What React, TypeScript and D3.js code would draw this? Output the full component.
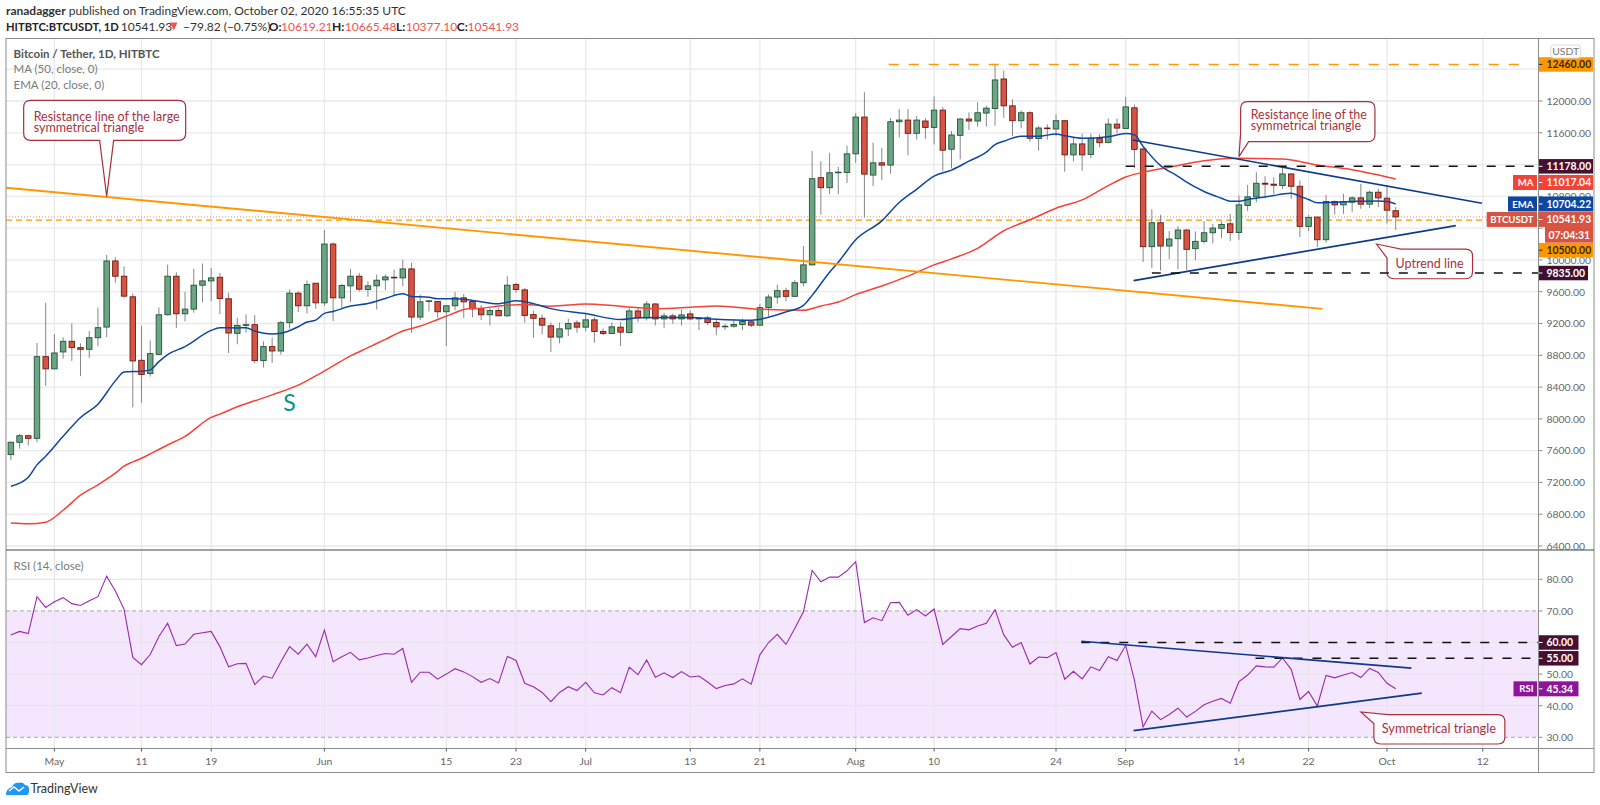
import { useEffect, useRef } from "react";
import * as d3 from "d3";

const WIDTH = 1600;
const HEIGHT = 805;
const FONT = "Lato, 'Open Sans', sans-serif";

const firstCandle = new Date(Date.UTC(2020, 3, 26));
const dayZero = new Date(Date.UTC(2020, 4, 1));

const opens = [
  7550, 7705, 7788, 7755, 8783, 8629, 8842, 8976, 8896, 8875, 9021, 9155, 9987, 9795, 9536, 8737, 8570, 8812, 9310, 9795,
  9322, 9381, 9682, 9736, 9782, 9511, 9076, 9176, 9185, 8733, 8909, 8854, 9210, 9582, 9423, 9707, 9460, 10200, 9523, 9674,
  9795, 9628, 9674, 9749, 9782, 9774, 9887, 9281, 9480, 9477, 9348, 9423, 9523, 9477, 9385, 9310, 9364, 9297, 9690, 9623,
  9312, 9266, 9171, 9029, 9133, 9208, 9154, 9246, 9100, 9075, 9154, 9087, 9358, 9271, 9446, 9258, 9296, 9258, 9321, 9258,
  9271, 9212, 9158, 9166, 9187, 9221, 9179, 9400, 9533, 9613, 9542, 9713, 9938, 11035, 10909, 11097, 11101, 11335, 11798, 11068,
  11222, 11193, 11739, 11760, 11593, 11748, 11668, 11885, 11393, 11568, 11773, 11748, 11848, 11906, 12277, 11939, 11752, 11852, 11527, 11660,
  11648, 11752, 11322, 11460, 11328, 11529, 11479, 11709, 11655, 11914, 11396, 10167, 10468, 10175, 10267, 10376, 10142, 10234, 10342, 10397,
  10455, 10346, 10685, 10794, 10965, 10953, 10936, 11082, 10927, 10422, 10539, 10254, 10735, 10693, 10727, 10781, 10702, 10852, 10777, 10619,
];
const highs = [
  7717, 7809, 7801, 8955, 9460, 9067, 9026, 9201, 8950, 9105, 9402, 10062, 10033, 9920, 9577, 9172, 8988, 9402, 9941, 9845,
  9598, 9887, 9954, 9899, 9837, 9586, 9272, 9314, 9306, 8976, 9021, 9235, 9628, 9603, 9740, 9710, 10377, 10221, 9699, 9887,
  9837, 9732, 9816, 9816, 9878, 10004, 9962, 9561, 9494, 9480, 9430, 9598, 9573, 9494, 9435, 9398, 9398, 9795, 9711, 9648,
  9362, 9312, 9212, 9212, 9262, 9241, 9325, 9279, 9137, 9212, 9221, 9400, 9396, 9483, 9454, 9333, 9325, 9375, 9367, 9283,
  9296, 9254, 9196, 9254, 9262, 9241, 9446, 9567, 9688, 9650, 9746, 10176, 11372, 11239, 11347, 11172, 11439, 11848, 12110, 11477,
  11410, 11785, 11898, 11898, 11814, 11785, 12056, 11923, 11623, 11785, 11856, 11985, 11939, 12460, 12381, 12023, 11881, 11869, 11685, 11706,
  11835, 11760, 11543, 11589, 11589, 11584, 11780, 11780, 12052, 11956, 11420, 10639, 10568, 10363, 10426, 10384, 10359, 10489, 10455, 10484,
  10580, 10810, 10944, 11103, 11053, 11040, 11187, 11090, 10998, 10568, 10545, 10819, 10748, 10831, 10802, 10957, 10873, 10894, 10936, 10665,
];
const lows = [
  7479, 7625, 7663, 7705, 8415, 8629, 8758, 8729, 8537, 8767, 8917, 9030, 9711, 9527, 8144, 8202, 8532, 8800, 9302, 9143,
  9226, 9335, 9465, 9481, 9318, 8829, 8938, 9084, 8700, 8645, 8704, 8808, 9134, 9343, 9327, 9385, 9419, 9230, 9398, 9469,
  9603, 9536, 9377, 9619, 9557, 9669, 9084, 9243, 9352, 9272, 8917, 9368, 9268, 9276, 9243, 9176, 9293, 9285, 9586, 9210,
  9020, 9062, 8841, 8950, 9041, 9083, 9104, 8958, 9054, 9066, 8916, 9075, 9216, 9237, 9175, 9141, 9196, 9175, 9241, 9116,
  9179, 9054, 9116, 9146, 9116, 9154, 9171, 9287, 9450, 9479, 9530, 9667, 9929, 10568, 10826, 10826, 10968, 11222, 10534, 10930,
  11005, 11085, 11543, 11318, 11514, 11522, 11452, 11118, 11151, 11264, 11635, 11677, 11677, 11689, 11789, 11556, 11656, 11489, 11376, 11514,
  11556, 11110, 11243, 11122, 11281, 11417, 11467, 11592, 11646, 11153, 9974, 9899, 9866, 10012, 9882, 9870, 9995, 10208, 10208, 10275,
  10238, 10254, 10614, 10727, 10777, 10831, 10894, 10769, 10288, 10363, 10162, 10217, 10572, 10580, 10601, 10643, 10652, 10664, 10455, 10377,
];
const closes = [
  7705, 7788, 7755, 8783, 8629, 8829, 8976, 8896, 8875, 9021, 9147, 9987, 9795, 9544, 8729, 8558, 8821, 9310, 9795, 9322,
  9381, 9682, 9736, 9774, 9515, 9080, 9176, 9185, 8733, 8909, 8854, 9210, 9582, 9423, 9690, 9460, 10200, 9523, 9678, 9795,
  9632, 9674, 9745, 9786, 9774, 9887, 9281, 9473, 9485, 9348, 9423, 9523, 9473, 9385, 9310, 9364, 9297, 9682, 9628, 9302,
  9266, 9179, 9029, 9133, 9200, 9154, 9246, 9100, 9075, 9158, 9091, 9358, 9271, 9446, 9258, 9296, 9258, 9308, 9258, 9266,
  9212, 9158, 9166, 9187, 9225, 9179, 9400, 9533, 9613, 9542, 9713, 9938, 11022, 10909, 11097, 11105, 11335, 11798, 11080, 11222,
  11193, 11739, 11760, 11593, 11760, 11668, 11885, 11381, 11572, 11773, 11748, 11852, 11910, 12265, 11939, 11752, 11852, 11531, 11660, 11652,
  11752, 11322, 11460, 11322, 11531, 11475, 11709, 11659, 11926, 11391, 10167, 10468, 10175, 10263, 10376, 10133, 10234, 10342, 10401, 10447,
  10346, 10693, 10794, 10965, 10953, 10940, 11082, 10927, 10422, 10535, 10254, 10735, 10693, 10735, 10781, 10702, 10852, 10781, 10626, 10541.93,
];

// line vertices, days counted from May 1
const emaDays = [
  -5, -3, -2, -1, 1, 3, 5, 7, 8, 10, 11, 12, 13, 15, 18, 19, 21, 22, 23, 25, 26, 28, 29, 30, 31, 32, 34, 36, 38, 40, 41, 43, 44, 46, 48, 51, 53, 55, 57,
  61, 65, 67, 70, 73, 76, 80, 81, 84, 86, 87, 89, 90, 92, 95, 97, 99, 101, 103, 105, 107, 108, 109, 111, 113, 115, 116, 118, 121, 123, 124, 125, 127, 129,
  130, 132, 134, 135, 136, 137, 138, 140, 141, 142, 143, 144, 145, 147, 149, 152, 153, 154,
];
const emaValues = [
  7153, 7266, 7421, 7529, 7780, 8018, 8185, 8478, 8591, 8599, 8616, 8720, 8808, 8909, 9113, 9147, 9143, 9147, 9105, 9067, 9076, 9159, 9218, 9243, 9327, 9352, 9419, 9452, 9515, 9573, 9540, 9531, 9511, 9511, 9490, 9448, 9485, 9450, 9387,
  9325, 9250, 9271, 9275, 9275, 9254, 9241, 9254, 9346, 9429, 9554, 9846, 9971, 10255, 10492, 10722, 10889, 11055, 11130, 11243, 11356, 11452, 11493, 11556, 11556, 11585, 11564, 11531, 11550, 11592, 11575, 11429, 11187, 11053,
  10978, 10861, 10777, 10739, 10739, 10760, 10777, 10810, 10831, 10840, 10802, 10760, 10718, 10727, 10735, 10743, 10735, 10704.22,
];
const maDays = [
  -5, -3, -1, 1, 3, 5, 7, 8, 10, 11, 13, 15, 18, 19, 21, 23, 25, 28, 30, 32, 34, 36, 38, 40, 42, 44, 46, 47, 49, 51, 54, 57, 61, 65, 69, 73, 76, 81, 86, 88,
  90, 92, 95, 98, 101, 103, 106, 109, 112, 115, 118, 121, 123, 125, 128, 132, 136, 141, 145, 149, 153, 154,
];
const maValues = [
  6690, 6680, 6700, 6850, 7040, 7170, 7316, 7404, 7504, 7559, 7671, 7780, 8018, 8060, 8152, 8227, 8302, 8424, 8541, 8666, 8792, 8896, 9001, 9105, 9168, 9251, 9335, 9377, 9393, 9419, 9440, 9417, 9446, 9417, 9387, 9404, 9421, 9379, 9367, 9421,
  9471, 9563, 9671, 9796, 9938, 10013, 10146, 10367, 10505, 10651, 10755, 10936, 11044, 11103, 11166, 11249, 11279, 11270, 11195, 11136, 11044, 11017.04,
];
const rsiValues = [
  62.4, 63.5, 62.8, 74.5, 71.1, 72.9, 74.2, 72.3, 71.7, 73.2, 74.5, 81.0, 76.3, 70.5, 55.3, 53.0, 56.2, 61.9, 66.1, 59.0,
  59.5, 62.6, 63.1, 63.5, 58.7, 52.3, 53.3, 53.4, 46.7, 49.4, 48.7, 53.9, 58.7, 56.3, 59.5, 55.5, 63.9, 53.9, 55.5, 56.9,
  54.5, 55.1, 55.9, 56.5, 56.3, 58.1, 47.4, 50.6, 50.6, 48.4, 50.0, 51.7, 50.7, 49.2, 47.4, 48.6, 47.2, 55.6, 54.3, 47.1,
  46.0, 44.2, 41.3, 44.2, 46.0, 44.8, 47.4, 44.1, 43.4, 45.7, 44.1, 52.2, 49.8, 54.5, 49.0, 50.4, 48.9, 50.8, 49.1, 49.4,
  47.5, 45.4, 46.4, 46.9, 48.5, 46.8, 56.1, 60.0, 62.6, 59.4, 64.4, 69.7, 82.8, 79.2, 80.7, 80.7, 82.7, 85.6, 66.3, 67.8,
  66.9, 72.6, 72.7, 68.6, 70.4, 68.4, 70.6, 59.4, 61.9, 64.4, 64.0, 65.2, 66.1, 70.4, 62.4, 58.5, 60.0, 53.2, 55.4, 55.2,
  56.8, 48.4, 50.9, 48.5, 52.3, 51.1, 55.5, 54.3, 59.1, 48.1, 33.3, 38.3, 35.6, 37.2, 39.2, 36.4, 38.2, 40.3, 41.4, 42.3,
  40.8, 47.6, 49.7, 52.6, 52.3, 52.2, 55.1, 51.5, 42.0, 44.5, 39.9, 49.6, 48.8, 49.7, 50.5, 48.9, 51.8, 50.5, 47.1, 45.34,
];

const priceTicks = [6400, 6800, 7200, 7600, 8000, 8400, 8800, 9200, 9600, 10000, 10400, 10800, 11200, 11600, 12000, 12400];
// these three sit fully behind a price tag in the reference
const hiddenPriceLabels = [10400, 11200, 12400];
const rsiTicks = [30, 40, 50, 60, 70, 80];
const timeTickDates = [
  "2020-05-01", "2020-05-11", "2020-05-19", "2020-06-01", "2020-06-15", "2020-06-23", "2020-07-01", "2020-07-13", "2020-07-21",
  "2020-08-01", "2020-08-10", "2020-08-24", "2020-09-01", "2020-09-14", "2020-09-22", "2020-10-01", "2020-10-12",
];
const timeTickLabels = ["May", "11", "19", "Jun", "15", "23", "Jul", "13", "21", "Aug", "10", "24", "Sep", "14", "22", "Oct", "12"];

// drawings as [day, value, day, value]
const orangeTrend = [-5.6, 10909, 145.6, 9384];
const priceResistance = [123.8, 11509, 163.9, 10713];
const priceUptrend = [123.9, 9740, 160.9, 10432];
const rsiResistance = [117.9, 60.4, 155.8, 51.9];
const rsiSupport = [123.9, 32.1, 157, 44];

const plotLeft = 6;
const plotRight = 1538.5;
const frameRight = 1594;
const priceTop = 38.5;
const priceBottom = 550;
const rsiBottom = 748.5;
const frameBottom = 772.5;
const AXIS_FONT = 10.4;

export default function App() {
  const svgRef = useRef<SVGSVGElement | null>(null);

  useEffect(() => {
    if (!svgRef.current) return;
    const svg = d3.select(svgRef.current);
    svg.selectAll("*").remove();

    const x = d3
      .scaleUtc()
      .domain([dayZero, new Date(Date.UTC(2020, 9, 12))])
      .range([54.4, 1482.8]);
    const xDay = (day: number) => x(new Date(dayZero.getTime() + day * 86400000));
    const y = d3.scaleLinear().domain([6400, 12000]).range([546, 101]);
    const yRsi = d3.scaleLinear().domain([30, 80]).range([737.3, 579.3]);
    const timeTicks = timeTickDates.map((d) => new Date(d + "T00:00:00Z"));

    const candles = opens.map((open, i) => ({
      date: d3.utcDay.offset(firstCandle, i),
      open,
      high: highs[i],
      low: lows[i],
      close: closes[i],
    }));

    const defs = svg.append("defs");
    defs.append("clipPath").attr("id", "price-clip").append("rect")
      .attr("x", plotLeft).attr("y", priceTop).attr("width", plotRight - plotLeft).attr("height", priceBottom - priceTop);

    // header
    const header = svg.append("g").attr("font-family", FONT).attr("font-size", 12).attr("fill", "#333");
    const line1 = header.append("text").attr("x", 6).attr("y", 15);
    line1.append("tspan").attr("font-weight", 700).text("ranadagger");
    line1.append("tspan").text(" published on TradingView.com, October 02, 2020 16:55:35 UTC");
    const headerBits: [number, string, string, number, number][] = [
      [6, "HITBTC:BTCUSDT, 1D", "#222", 700, 11.2],
      [120.7, "10541.93", "#333", 400, 12],
      [183, "−79.82 (−0.75%)", "#333", 400, 12],
      [268.8, "O:", "#222", 700, 12],
      [281, "10619.21", "#ef5350", 400, 12],
      [332, "H:", "#222", 700, 12],
      [344.8, "10665.48", "#ef5350", 400, 12],
      [396, "L:", "#222", 700, 12],
      [405.7, "10377.10", "#ef5350", 400, 12],
      [456.7, "C:", "#222", 700, 12],
      [467.5, "10541.93", "#ef5350", 400, 12],
    ];
    header.selectAll("text.bit").data(headerBits).join("text").attr("class", "bit")
      .attr("x", (d) => d[0]).attr("y", 31).attr("fill", (d) => d[2]).attr("font-weight", (d) => d[3])
      .attr("font-size", (d) => d[4]).text((d) => d[1]);
    header.append("path").attr("d", "M170 22.5h7.5l-3.75 8z").attr("fill", "#ef5350");

    // grid
    const grid = svg.append("g").attr("stroke", "#e9e9ec").attr("stroke-width", 1.3);
    grid.selectAll("line.p").data(priceTicks).join("line").attr("class", "p")
      .attr("x1", plotLeft).attr("x2", plotRight).attr("y1", (d) => y(d)).attr("y2", (d) => y(d));

    // rsi band sits under its grid
    svg.append("rect").attr("x", plotLeft).attr("width", plotRight - plotLeft)
      .attr("y", yRsi(70)).attr("height", yRsi(30) - yRsi(70)).attr("fill", "#f4e7fd");
    const gridRsi = svg.append("g").attr("stroke", "#e8e2ec").attr("stroke-width", 1.2);
    gridRsi.selectAll("line").data(rsiTicks.filter((t) => t !== 30 && t !== 70)).join("line")
      .attr("x1", plotLeft).attr("x2", plotRight).attr("y1", (d) => yRsi(d)).attr("y2", (d) => yRsi(d));
    gridRsi.selectAll("line.t").data(timeTicks).join("line").attr("class", "t")
      .attr("x1", (d) => x(d)).attr("x2", (d) => x(d)).attr("y1", priceBottom).attr("y2", rsiBottom);
    grid.selectAll("line.t").data(timeTicks).join("line").attr("class", "t")
      .attr("x1", (d) => x(d)).attr("x2", (d) => x(d)).attr("y1", priceTop).attr("y2", priceBottom);
    svg.append("g").attr("stroke", "#a9a4ad").attr("stroke-dasharray", "4 3")
      .selectAll("line").data([30, 70]).join("line")
      .attr("x1", plotLeft).attr("x2", plotRight).attr("y1", (d) => yRsi(d)).attr("y2", (d) => yRsi(d));

    // last price lines
    svg.append("line").attr("x1", plotLeft).attr("x2", plotRight).attr("y1", y(10541.93)).attr("y2", y(10541.93))
      .attr("stroke", "#e2907f").attr("stroke-dasharray", "1 2");
    svg.append("line").attr("x1", plotLeft).attr("x2", plotRight).attr("y1", y(10500)).attr("y2", y(10500))
      .attr("stroke", "#ff9800").attr("stroke-width", 1.3).attr("stroke-dasharray", "6 4");

    // candles
    const price = svg.append("g").attr("clip-path", "url(#price-clip)");
    const candle = price.append("g").selectAll("g").data(candles).join("g");
    candle.append("line")
      .attr("x1", (d) => x(d.date)).attr("x2", (d) => x(d.date))
      .attr("y1", (d) => y(d.high)).attr("y2", (d) => y(d.low))
      .attr("stroke", "#87878a").attr("stroke-width", 1);
    candle.append("rect")
      .attr("x", (d) => x(d.date) - 2.75).attr("width", 5.5)
      .attr("y", (d) => y(Math.max(d.open, d.close)))
      .attr("height", (d) => Math.max(0.6, Math.abs(y(d.open) - y(d.close))))
      .attr("fill", (d) => (d.close >= d.open ? "#6ba583" : "#d75442"))
      .attr("stroke", (d) => (d.close >= d.open ? "#225437" : "#6b1a13"))
      .attr("stroke-width", 0.9);

    // moving averages
    const lineAt = (vals: number[], days: number[]) =>
      d3.line<number>().x((_, i) => xDay(days[i])).y((v) => y(v)).curve(d3.curveMonotoneX)(vals);
    price.append("path").attr("d", lineAt(maValues, maDays)).attr("fill", "none").attr("stroke", "#f44336").attr("stroke-width", 1.5);
    price.append("path").attr("d", lineAt(emaValues, emaDays)).attr("fill", "none").attr("stroke", "#0d47a1").attr("stroke-width", 1.5);

    // rsi line
    const rsiLine = d3.line<number>().x((_, i) => x(d3.utcDay.offset(firstCandle, i))).y((v) => yRsi(v));
    svg.append("path").attr("d", rsiLine(rsiValues)).attr("fill", "none").attr("stroke", "#9c27b0").attr("stroke-width", 1.1);

    // callouts, anchored on the chart with the box placed around the tip
    const callouts = svg.append("g");
    const drawCallout = (
      tx: number, ty: number, bx0: number, by0: number, bx1: number, by1: number,
      kind: "bottom" | "bottomLeft" | "topLeft", lines: string[], textX: number, baseY: number, lead: number, anchor: string, size: number,
    ) => {
      const r = 7;
      const p = d3.path();
      if (kind === "topLeft") {
        p.moveTo(bx0 + 14, by0);
        p.lineTo(bx1 - r, by0);
      } else {
        p.moveTo(bx0 + r, by0);
        p.lineTo(bx1 - r, by0);
      }
      p.quadraticCurveTo(bx1, by0, bx1, by0 + r);
      p.lineTo(bx1, by1 - r);
      p.quadraticCurveTo(bx1, by1, bx1 - r, by1);
      if (kind === "bottom") {
        p.lineTo(tx + 7, by1);
        p.lineTo(tx, ty);
        p.lineTo(tx - 7, by1);
      }
      if (kind === "bottomLeft") {
        p.lineTo(bx0 + 8, by1);
        p.lineTo(tx, ty);
        p.lineTo(bx0, by1 - 8);
        p.lineTo(bx0, by0 + r);
      } else {
        p.lineTo(bx0 + r, by1);
        p.quadraticCurveTo(bx0, by1, bx0, by1 - r);
        if (kind === "topLeft") {
          p.lineTo(bx0, by0 + 9);
          p.lineTo(tx, ty);
        } else {
          p.lineTo(bx0, by0 + r);
        }
      }
      if (kind !== "topLeft") p.quadraticCurveTo(bx0, by0, bx0 + r, by0);
      p.closePath();
      callouts.append("path").attr("d", p.toString()).attr("fill", "rgba(255,255,255,0.78)")
        .attr("stroke", "#a8323c").attr("stroke-width", 1.2);
      lines.forEach((t, i) => {
        callouts.append("text").attr("x", textX).attr("y", baseY + i * lead).attr("text-anchor", anchor)
          .attr("font-family", FONT).attr("font-size", size).attr("fill", "#a8323c").text(t);
      });
    };

    // drawings
    const drawing = (g: d3.Selection<SVGGElement, unknown, null, undefined>, seg: number[], sy: (v: number) => number, color: string, w: number) =>
      g.append("line").attr("x1", xDay(seg[0])).attr("y1", sy(seg[1])).attr("x2", xDay(seg[2])).attr("y2", sy(seg[3]))
        .attr("stroke", color).attr("stroke-width", w);
    const dashed = (x0: number, x1: number, yy: number, color: string, w: number, dash: string) =>
      svg.append("line").attr("x1", x0).attr("x2", x1).attr("y1", yy).attr("y2", yy)
        .attr("stroke", color).attr("stroke-width", w).attr("stroke-dasharray", dash);

    dashed(xDay(95.8), 1528, y(12460), "#ff9800", 1.6, "10 10");
    dashed(xDay(123), plotRight, y(11178), "#111", 1.6, "9 10");
    dashed(xDay(126), plotRight, y(9835), "#111", 1.6, "9 10");
    dashed(xDay(117.9), plotRight, yRsi(60), "#111", 1.6, "9 10");
    dashed(xDay(137.9), plotRight, yRsi(55), "#111", 1.6, "9 10");

    const draw = price.append("g");
    drawing(draw, orangeTrend, y, "#ff9800", 1.9);
    drawing(draw, priceResistance, y, "#0d3a8c", 1.7);
    drawing(draw, priceUptrend, y, "#0d3a8c", 1.7);
    const drawRsi = svg.append("g");
    drawing(drawRsi, rsiResistance, yRsi, "#0d3a8c", 1.7);
    drawing(drawRsi, rsiSupport, yRsi, "#0d3a8c", 1.7);

    const tip1x = xDay(6);
    const tip1y = y(10800);
    drawCallout(tip1x, tip1y, tip1x - 83, tip1y - 96, tip1x + 79, tip1y - 56, "bottom",
      ["Resistance line of the large", "symmetrical triangle"], tip1x - 73, tip1y - 75, 11, "start", 12.5);
    const tip2x = xDay(136);
    const tip2y = y(11300);
    drawCallout(tip2x, tip2y, tip2x + 1.7, tip2y - 55, tip2x + 136, tip2y - 15, "bottomLeft",
      ["Resistance line of the", "symmetrical triangle"], tip2x + 11.7, tip2y - 38, 11, "start", 12.5);
    const tip3x = xDay(151.8);
    const tip3y = y(10200);
    drawCallout(tip3x, tip3y, tip3x + 10.5, tip3y + 5, tip3x + 96, tip3y + 34.7, "topLeft",
      ["Uptrend line"], tip3x + 53, tip3y + 23.5, 0, "middle", 12.5);
    const tip4x = xDay(150);
    const tip4y = yRsi(38);
    drawCallout(tip4x, tip4y, tip4x + 13, tip4y + 2.6, tip4x + 144, tip4y + 32, "topLeft",
      ["Symmetrical triangle"], tip4x + 78, tip4y + 21, 0, "middle", 12.8);

    // S mark
    svg.append("text").attr("x", xDay(27)).attr("y", y(8100)).attr("text-anchor", "middle")
      .attr("font-family", FONT).attr("font-size", 23).attr("fill", "#009688").text("S");

    // frame and panes
    const frame = svg.append("g").attr("stroke", "#8c8c8c").attr("fill", "none");
    frame.append("rect").attr("x", plotLeft).attr("y", priceTop).attr("width", frameRight - plotLeft).attr("height", frameBottom - priceTop);
    frame.append("line").attr("x1", plotLeft).attr("x2", frameRight).attr("y1", priceBottom).attr("y2", priceBottom).attr("stroke", "#444");
    frame.append("line").attr("x1", plotLeft).attr("x2", frameRight).attr("y1", rsiBottom).attr("y2", rsiBottom);
    frame.append("line").attr("x1", plotRight).attr("x2", plotRight).attr("y1", priceTop).attr("y2", frameBottom);

    // axis labels
    const labels = svg.append("g").attr("font-family", FONT).attr("font-size", AXIS_FONT).attr("fill", "#666");
    const axisPrice = labels.selectAll("g.p").data(priceTicks).join("g").attr("class", "p");
    axisPrice.append("line").attr("x1", plotRight).attr("x2", plotRight + 4).attr("y1", (d) => y(d)).attr("y2", (d) => y(d)).attr("stroke", "#8c8c8c");
    axisPrice.filter((d) => !hiddenPriceLabels.includes(d)).append("text")
      .attr("x", plotRight + 8).attr("y", (d) => y(d) + 3.8).text((d) => d3.format(".2f")(d));
    const axisRsi = labels.selectAll("g.r").data(rsiTicks).join("g").attr("class", "r");
    axisRsi.append("line").attr("x1", plotRight).attr("x2", plotRight + 4).attr("y1", (d) => yRsi(d)).attr("y2", (d) => yRsi(d)).attr("stroke", "#8c8c8c");
    axisRsi.filter((d) => d !== 60).append("text").attr("x", plotRight + 8).attr("y", (d) => yRsi(d) + 3.8).text((d) => d3.format(".2f")(d));
    const axisTime = labels.selectAll("g.t").data(timeTicks).join("g").attr("class", "t");
    axisTime.append("line").attr("x1", (d) => x(d)).attr("x2", (d) => x(d)).attr("y1", rsiBottom).attr("y2", rsiBottom + 3).attr("stroke", "#555");
    axisTime.append("text").attr("x", (d) => x(d)).attr("y", 765).attr("text-anchor", "middle").text((_, i) => timeTickLabels[i]);

    // price tags
    const tag = (yy: number, text: string, fill: string, color: string, xEnd: number, h = 14.5, name?: string, nameLeft?: number) => {
      const g = svg.append("g").attr("font-family", FONT).attr("font-size", AXIS_FONT);
      g.append("rect").attr("x", plotRight + 0.5).attr("y", yy - h / 2).attr("width", xEnd - plotRight - 0.5).attr("height", h).attr("fill", fill);
      g.append("line").attr("x1", plotRight + 0.5).attr("x2", plotRight + 4).attr("y1", yy).attr("y2", yy).attr("stroke", color);
      g.append("text").attr("x", plotRight + 8).attr("y", yy + 3.8).attr("fill", color).attr("font-weight", 700).text(text);
      if (name && nameLeft !== undefined) {
        g.append("rect").attr("x", nameLeft).attr("y", yy - h / 2).attr("width", plotRight - 1.5 - nameLeft).attr("height", h).attr("fill", fill);
        g.append("text").attr("x", plotRight - 5).attr("y", yy + 3.6).attr("text-anchor", "end").attr("font-size", 9.6).attr("fill", color).attr("font-weight", 700).text(name);
      }
    };
    tag(y(12460), "12460.00", "#ff9800", "#3a2a00", frameRight - 1);
    tag(y(11178), "11178.00", "#4a0f2f", "#fff", frameRight - 1);
    tag(y(11017.04) + 3.4, "11017.04", "#f44336", "#fff", frameRight - 1, 15, "MA", 1513);
    tag(y(10704.22), "10704.22", "#0d47a1", "#fff", frameRight - 1, 15, "EMA", 1508);
    tag(y(10541.93) + 2.6, "10541.93", "#d75442", "#fff", frameRight - 1, 15, "BTCUSDT", 1486.7);
    tag(y(9835), "9835.00", "#3f0f2e", "#fff", 1588);
    tag(yRsi(60), "60.00", "#4a0f2f", "#fff", 1578.5);
    tag(yRsi(55), "55.00", "#4a0f2f", "#fff", 1578.5);
    tag(yRsi(45.34), "45.34", "#8e1599", "#fff", 1578.5, 15, "RSI", 1513.5);

    // countdown and round-number tags
    const timer = svg.append("g").attr("font-family", FONT).attr("font-size", AXIS_FONT);
    timer.append("rect").attr("x", 1545).attr("y", 226.7).attr("width", 48).attr("height", 16).attr("fill", "#d75442");
    timer.append("text").attr("x", 1548.5).attr("y", 238.5).attr("fill", "#fff").attr("font-weight", 700).text("07:04:31");
    tag(y(10500) + 30, "10500.00", "#ff9800", "#3a2a00", frameRight - 1);

    // USDT button
    const unit = svg.append("g").attr("font-family", FONT).attr("font-size", 10.4);
    unit.append("rect").attr("x", 1550.7).attr("y", 45).attr("width", 30).attr("height", 13).attr("rx", 3).attr("fill", "#fff").attr("stroke", "#dcdcdc");
    unit.append("text").attr("x", 1565.7).attr("y", 55.4).attr("text-anchor", "middle").attr("fill", "#777").text("USDT");

    // legends
    const legend = svg.append("g").attr("font-family", FONT).attr("font-size", 11.5).attr("fill", "#7a7a7a");
    legend.append("text").attr("x", 13.5).attr("y", 58).attr("font-weight", 700).attr("fill", "#555").text("Bitcoin / Tether, 1D, HITBTC");
    legend.append("text").attr("x", 13.5).attr("y", 73).text("MA (50, close, 0)");
    legend.append("text").attr("x", 13.5).attr("y", 88.5).text("EMA (20, close, 0)");
    legend.append("text").attr("x", 13.5).attr("y", 569.5).text("RSI (14, close)");

    // logo
    const logo = svg.append("g");
    logo.append("path").attr("d", "M6 795c0-5 3-7 6-8 1-3 4-5 7-4 2-1 5 0 6 2 3 0 5 3 4 6 0 2-1 4-2 4z").attr("fill", "#2196f3");
    logo.append("path").attr("d", "M9 791l5-4 5 4 5-4").attr("fill", "none").attr("stroke", "#fff").attr("stroke-width", 1.4);
    svg.append("text").attr("x", 30.4).attr("y", 792.5).attr("font-family", FONT).attr("font-size", 12.5).attr("fill", "#333").text("TradingView");
  }, []);

  return <svg ref={svgRef} width={WIDTH} height={HEIGHT} viewBox={`0 0 ${WIDTH} ${HEIGHT}`} style={{ position: "absolute", left: 0, top: 0, background: "#fff" }} />;
}
